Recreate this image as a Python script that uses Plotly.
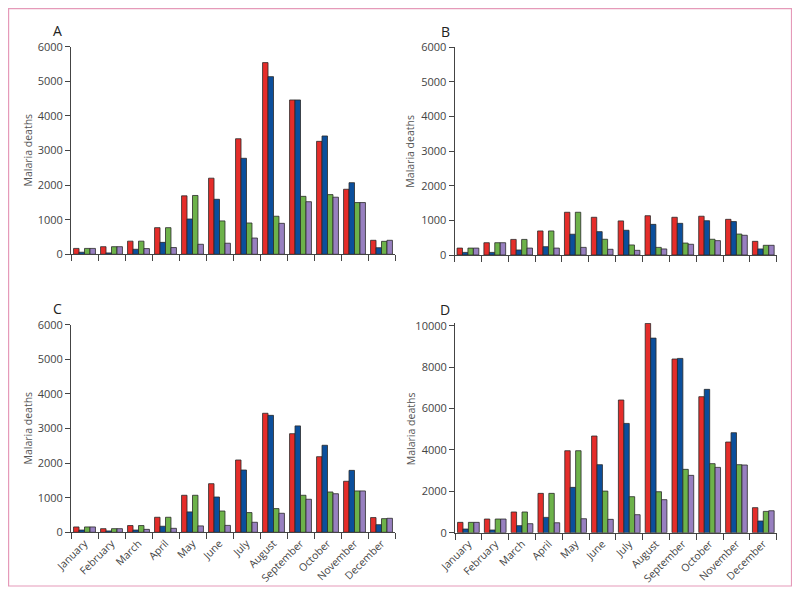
import plotly.graph_objects as go

months = ["January", "February", "March", "April", "May", "June", "July",
          "August", "September", "October", "November", "December"]

# Panel A
a_red = [170, 220, 380, 770, 1690, 2200, 3340, 5540, 4460, 3265, 1880, 405]
a_blue = [60, 40, 145, 345, 1020, 1590, 2775, 5135, 4460, 3420, 2070, 190]
a_green = [170, 220, 380, 770, 1700, 965, 905, 1100, 1675, 1725, 1495, 375]
a_purple = [170, 220, 165, 195, 290, 320, 470, 895, 1520, 1650, 1495, 405]

# Panel B
b_red = [200, 355, 450, 695, 1235, 1090, 985, 1135, 1090, 1120, 1030, 395]
b_blue = [75, 75, 145, 240, 600, 675, 715, 885, 915, 990, 965, 175]
b_green = [200, 355, 450, 695, 1235, 455, 290, 220, 345, 455, 605, 280]
b_purple = [200, 355, 200, 200, 220, 165, 135, 175, 310, 415, 570, 280]

# Panel C
c_red = [155, 105, 195, 435, 1070, 1405, 2090, 3440, 2850, 2185, 1475, 425]
c_blue = [65, 40, 65, 175, 590, 1020, 1800, 3380, 3075, 2515, 1790, 220]
c_green = [155, 105, 195, 435, 1070, 615, 570, 685, 1070, 1165, 1195, 395]
c_purple = [155, 105, 85, 115, 185, 200, 290, 550, 955, 1115, 1195, 405]

# Panel D
d_red = [500, 660, 1000, 1900, 3960, 4670, 6410, 10110, 8390, 6570, 4380, 1210]
d_blue = [177, 130, 340, 740, 2190, 3285, 5280, 9400, 8420, 6925, 4830, 565]
d_green = [500, 660, 1000, 1900, 3960, 2010, 1740, 1980, 3060, 3335, 3285, 1030]
d_purple = [500, 660, 435, 480, 675, 645, 870, 1595, 2770, 3155, 3270, 1060]

panels = [
    ("A", [a_red, a_blue, a_green, a_purple]),
    ("B", [b_red, b_blue, b_green, b_purple]),
    ("C", [c_red, c_blue, c_green, c_purple]),
    ("D", [d_red, d_blue, d_green, d_purple]),
]

colors = ["#e52d2a", "#0b4f9c", "#6db24a", "#9880c0"]
FONT = "Open Sans"
PAGE_W, PAGE_H = 800, 595
OFF = 8  # default body margin of the html page
W, H = PAGE_W - OFF, PAGE_H - OFF


def fx(p):
    return (p - OFF) / W


def fy(p):
    return (PAGE_H - p) / H


# page-pixel layout: x0, x1 (axis), y_zero, y_top, tick max, range top, letter x
geo = {
    "A": (71, 395, 254.3, 46.7, 6000, 6000, 57),
    "B": (454.5, 776.7, 255.0, 47.3, 6000, 6000, 445),
    "C": (71, 395, 532.3, 324.7, 6000, 6000, 57),
    "D": (455, 776.7, 532.7, 325.7, 10000, 10130, 445),
}

fig = go.Figure()
layout = dict(
    template="none",
    width=W, height=H, margin=dict(l=0, r=0, t=0, b=0, autoexpand=False),
    paper_bgcolor="white", plot_bgcolor="white",
    showlegend=False, bargap=0.19, bargroupgap=0.0, barmode="group",
    font=dict(family=FONT, color="#444", size=10),
)
annotations = []
for i, (name, series) in enumerate(panels):
    n = "" if i == 0 else str(i + 1)
    x0, x1, yz, yt, tickmax, rmax, lx = geo[name]
    top_px = yz - (yz - yt) * rmax / tickmax
    xd = [fx(x0), fx(x1)]
    yd = [fy(yz), fy(top_px)]
    for s, c in zip(series, colors):
        fig.add_trace(go.Bar(
            x=months, y=s, marker=dict(color=c, line=dict(color="#2a2a2a", width=0.8)),
            xaxis="x" + n, yaxis="y" + n, hoverinfo="x+y",
        ))
    step = 1000 if tickmax == 6000 else 2000
    tv = list(range(0, tickmax + 1, step))
    layout["xaxis" + n] = dict(
        domain=xd, anchor="y" + n, type="category", range=[-0.5, 11.5],
        automargin=False,
        showline=True, linecolor="#444", linewidth=1,
        ticks="outside", ticklen=6, tickcolor="#444", tickwidth=1, tickson="boundaries",
        showgrid=False, zeroline=False,
        showticklabels=name in ("C", "D"), tickangle=-45,
        tickfont=dict(family=FONT, size=10.5, color="#444"),
    )
    layout["yaxis" + n] = dict(
        domain=yd, anchor="x" + n, range=[0, rmax], automargin=False,
        tickvals=tv, ticktext=[str(v) for v in tv],
        showline=True, linecolor="#444", linewidth=1,
        ticks="outside", ticklen=5, tickcolor="#444", tickwidth=1,
        showgrid=False, zeroline=False,
        tickfont=dict(family=FONT, size=11, color="#444"),
    )
    annotations.append(dict(
        text=name, xref="paper", yref="paper", x=fx(lx), y=fy(yt - 16),
        showarrow=False, xanchor="center", yanchor="middle",
        font=dict(family=FONT, size=14, color="#222"),
    ))
    annotations.append(dict(
        text="Malaria deaths", xref="paper", yref="paper",
        x=fx(x0 - 44), y=fy((yz + yt) / 2), textangle=-90,
        showarrow=False, xanchor="center", yanchor="middle",
        font=dict(family=FONT, size=10.5, color="#555"),
    ))

layout["annotations"] = annotations
layout["shapes"] = [dict(
    type="rect", xref="paper", yref="paper",
    x0=fx(8.6), x1=fx(791.5), y0=fy(586), y1=fy(8.6),
    line=dict(color="#e59ab9", width=1.2), fillcolor="rgba(0,0,0,0)",
)]
fig.update_layout(**layout)
fig.write_html("out.html")
